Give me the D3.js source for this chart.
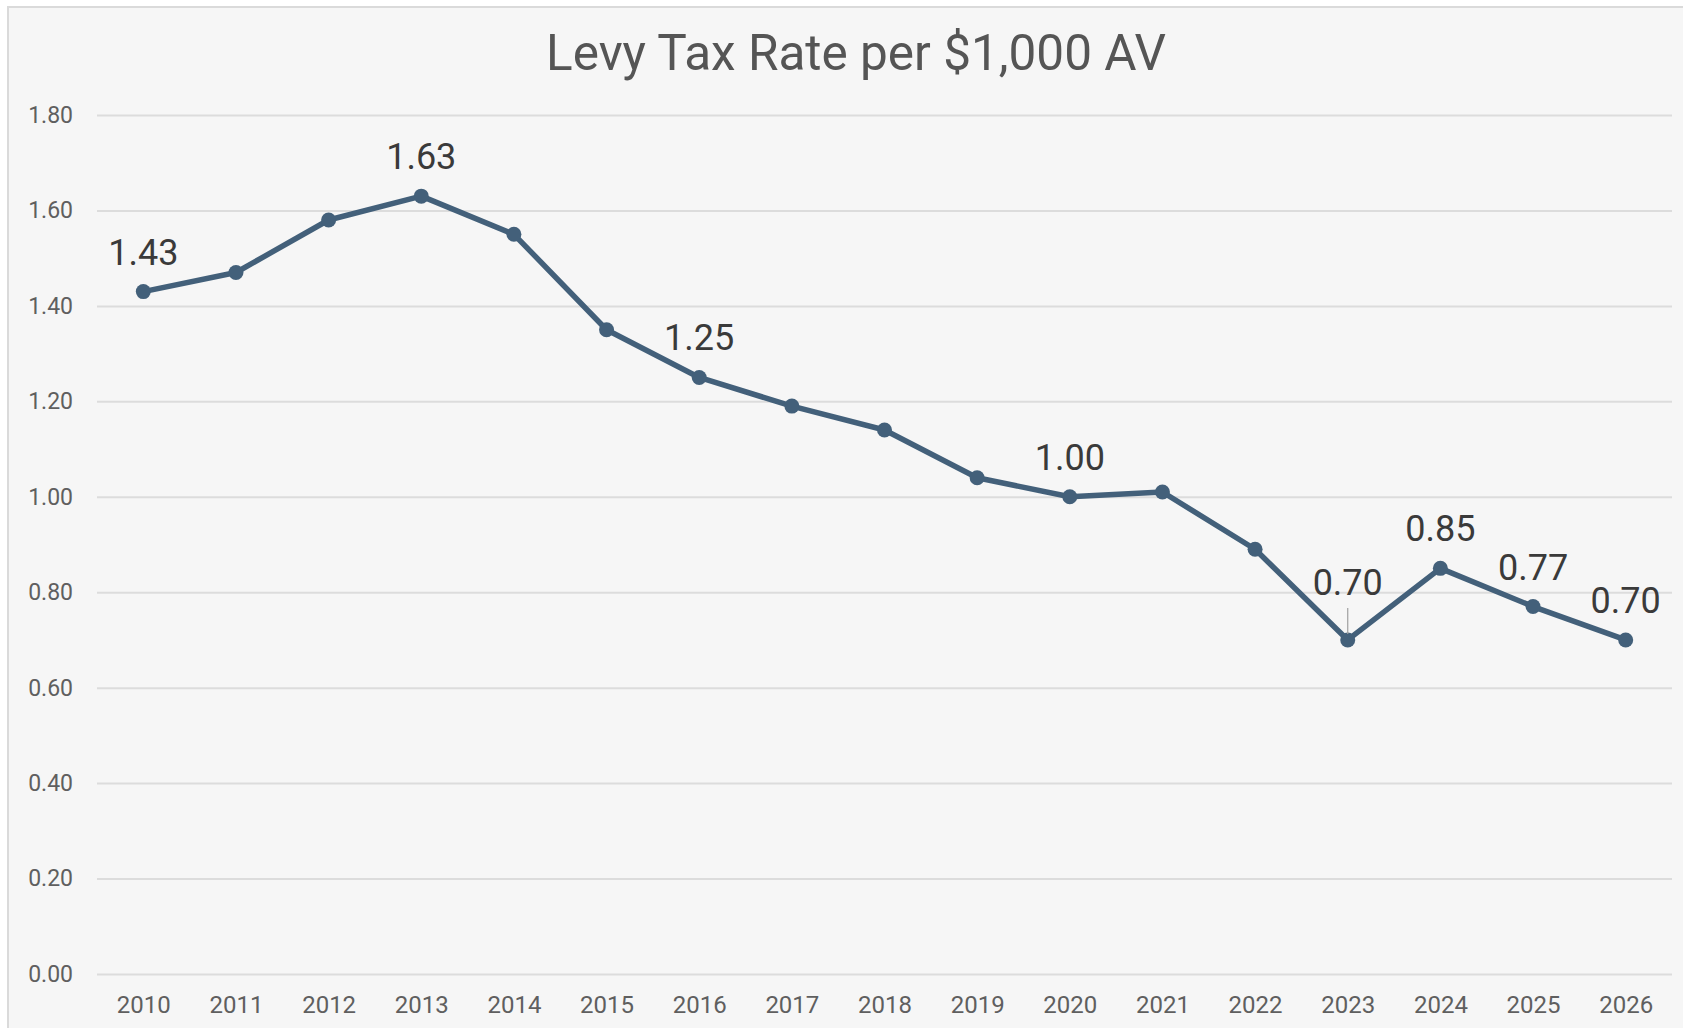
<!DOCTYPE html>
<html>
<head>
    <meta charset="UTF-8">
    <title>Levy Tax Rate per $1,000 AV</title>
    <style>
        body {
            margin: 0;
            background-color: #ffffff;
        }
        text {
            font-family: Roboto, "Noto Sans", sans-serif;
        }
    </style>
</head>
<body>
    <div id="chart"></div>
    <script src="https://cdn.jsdelivr.net/npm/d3@7"></script>
    <script>
        // data
        const years = ["2010", "2011", "2012", "2013", "2014", "2015", "2016", "2017", "2018",
            "2019", "2020", "2021", "2022", "2023", "2024", "2025", "2026"];
        const rates = [1.43, 1.47, 1.58, 1.63, 1.55, 1.35, 1.25, 1.19, 1.14,
            1.04, 1.00, 1.01, 0.89, 0.70, 0.85, 0.77, 0.70];
        const labelledYears = ["2010", "2013", "2016", "2020", "2023", "2024", "2025", "2026"];
        const yTicks = [0, 0.2, 0.4, 0.6, 0.8, 1.0, 1.2, 1.4, 1.6, 1.8];

        const W = 1683, H = 1028;
        const plot = { left: 97, right: 1672, top: 115, bottom: 974 };

        const data = years.map((y, i) => ({ year: y, value: rates[i] }));

        const svg = d3.select("#chart").append("svg")
            .attr("width", W)
            .attr("height", H);

        // chart panel with light frame
        svg.append("rect")
            .attr("x", 8).attr("y", 7)
            .attr("width", W + 20).attr("height", H + 20)
            .attr("fill", "#f6f6f6")
            .attr("stroke", "#dadada")
            .attr("stroke-width", 2);

        const x = d3.scalePoint()
            .domain(years)
            .range([plot.left, plot.right])
            .padding(0.5);

        const y = d3.scaleLinear()
            .domain([0, 1.8])
            .range([plot.bottom, plot.top]);

        // gridlines + y labels
        const yAxis = svg.append("g")
            .attr("transform", "translate(" + plot.left + ",0)")
            .call(d3.axisLeft(y).tickValues(yTicks).tickFormat(d3.format(".2f"))
                .tickSize(-(plot.right - plot.left)).tickPadding(24));
        yAxis.select(".domain").remove();
        yAxis.selectAll(".tick line").attr("stroke", "#dcdcdc").attr("stroke-width", 2);
        yAxis.selectAll(".tick text")
            .attr("fill", "#5f5f5f")
            .style("font-size", "23px");

        // x labels
        const xAxis = svg.append("g")
            .attr("transform", "translate(0," + plot.bottom + ")")
            .call(d3.axisBottom(x).tickSize(0).tickPadding(22));
        xAxis.select(".domain").remove();
        xAxis.selectAll(".tick text")
            .attr("fill", "#5f5f5f")
            .style("font-size", "24px");

        // title
        svg.append("text")
            .attr("x", 856)
            .attr("y", 70)
            .attr("text-anchor", "middle")
            .attr("fill", "#555555")
            .style("font-size", "49.5px")
            .text("Levy Tax Rate per $1,000 AV");

        // line
        const line = d3.line()
            .x(d => x(d.year))
            .y(d => y(d.value));

        svg.append("path")
            .datum(data)
            .attr("fill", "none")
            .attr("stroke", "#43607a")
            .attr("stroke-width", 5.5)
            .attr("stroke-linejoin", "round")
            .attr("d", line);

        svg.selectAll(".point")
            .data(data)
            .enter()
            .append("circle")
            .attr("class", "point")
            .attr("cx", d => x(d.year))
            .attr("cy", d => y(d.value))
            .attr("r", 7.5)
            .attr("fill", "#43607a");

        // data labels (2023 sits higher with a leader line)
        const labels = data.filter(d => labelledYears.includes(d.year));
        const offset = d => d.year === "2023" ? 45 : 27;

        svg.selectAll(".leader")
            .data(labels.filter(d => d.year === "2023"))
            .enter()
            .append("line")
            .attr("x1", d => x(d.year))
            .attr("x2", d => x(d.year))
            .attr("y1", d => y(d.value) - 32)
            .attr("y2", d => y(d.value) - 6)
            .attr("stroke", "#a0a0a0")
            .attr("stroke-width", 1.2);

        svg.selectAll(".label")
            .data(labels)
            .enter()
            .append("text")
            .attr("class", "label")
            .attr("x", d => x(d.year))
            .attr("y", d => y(d.value) - offset(d))
            .attr("text-anchor", "middle")
            .attr("fill", "#3a3a3a")
            .style("font-size", "36px")
            .text(d => d.value.toFixed(2));
    </script>
</body>
</html>
